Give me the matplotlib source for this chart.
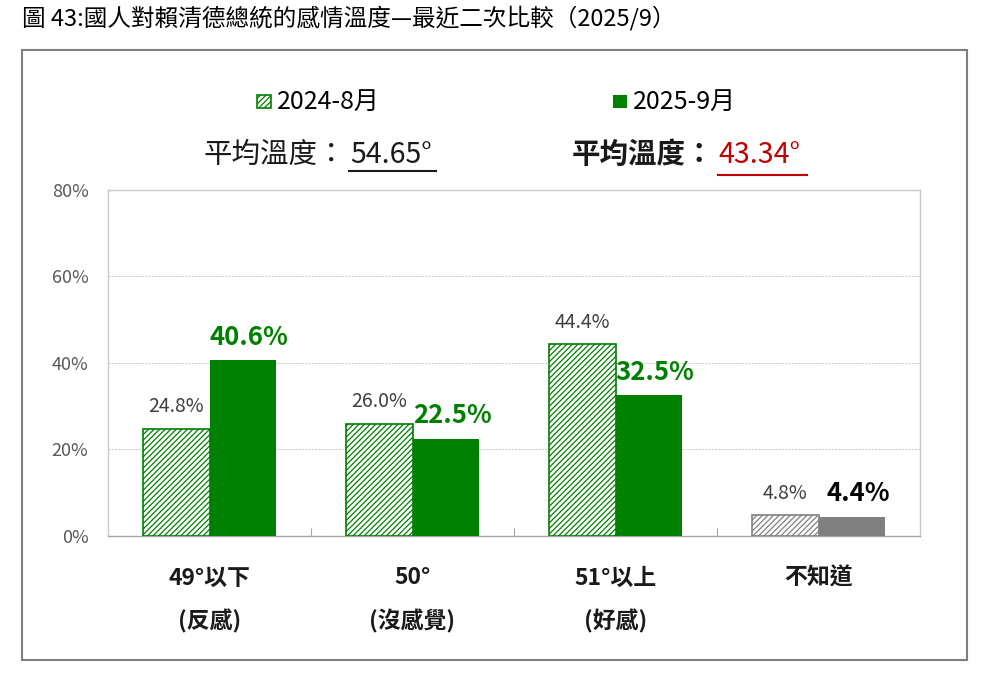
import matplotlib
matplotlib.use("Agg")
import matplotlib.pyplot as plt
from matplotlib.patches import Rectangle
from matplotlib.lines import Line2D
import matplotlib.transforms as mtransforms

plt.rcParams['font.family'] = ['Noto Sans CJK TC', 'DejaVu Sans']
plt.rcParams['hatch.linewidth'] = 0.9

title = "圖 43:國人對賴清德總統的感情溫度—最近二次比較（2025/9）"
cat_line1 = ["49°以下", "50°", "51°以上", "不知道"]
cat_line2 = ["(反感)", "(沒感覺)", "(好感)", ""]
series_names = ["2024-8月", "2025-9月"]
vals_2024 = [24.8, 26.0, 44.4, 4.8]
vals_2025 = [40.6, 22.5, 32.5, 4.4]
avg_2024 = "54.65°"
avg_2025 = "43.34°"
yticks = [0, 20, 40, 60, 80]

GREEN = '#008000'
GRAY = '#808080'

W, H = 991, 683
fig = plt.figure(figsize=(W/100, H/100), dpi=100)

def fx(px): return px / W
def fy(py): return 1 - py / H

# outer frame
fig.add_artist(Rectangle((fx(22), fy(660)), fx(967) - fx(22), fy(50) - fy(660),
                         transform=fig.transFigure, fill=False, edgecolor='#7f7f7f', lw=1.5))

fig.text(fx(22), fy(18), title, fontsize=17, va='center', ha='left', color='black')

ax = fig.add_axes([fx(108), fy(536), fx(920) - fx(108), fy(190) - fy(536)])

x = list(range(len(cat_line1)))
w = 0.33
for i in x:
    col = GREEN if i < 3 else GRAY
    ax.bar(i - w/2, vals_2024[i], width=w, facecolor='white', edgecolor=col,
           hatch='//////', lw=1.2, zorder=3)
    ax.bar(i + w/2, vals_2025[i], width=w, facecolor=col, edgecolor=col, lw=0, zorder=3)
    ax.text(i - w/2, vals_2024[i] + 2.6, f"{vals_2024[i]:.1f}%", ha='center', va='bottom',
            fontsize=14, color='#404040')
    c2 = GREEN if i < 3 else 'black'
    ax.text(i + w/2 + 0.03, vals_2025[i] + 2.2, f"{vals_2025[i]:.1f}%", ha='center', va='bottom',
            fontsize=18.5, fontweight='bold', color=c2)

ax.set_xlim(-0.5, 3.5)
ax.set_ylim(0, 80)
ax.set_yticks(yticks)
ax.set_yticklabels([f"{v}%" for v in yticks], fontsize=13, color='#595959')
ax.tick_params(axis='y', length=0, pad=14)
ax.set_xticks([0.5, 1.5, 2.5])
ax.set_xticklabels([])
ax.tick_params(axis='x', direction='in', length=6, color='#a6a6a6')
for yv in yticks[1:-1]:
    ax.axhline(yv, color='#d0d0d0', lw=0.8, ls=(0, (2, 1)), zorder=1)
for s in ax.spines.values():
    s.set_color('#c8c8c8')
    s.set_linewidth(1.0)
ax.spines['bottom'].set_color('#a6a6a6')

trans = mtransforms.blended_transform_factory(ax.transData, ax.transAxes)
for i in x:
    ax.text(i, (536 - 578) / 346, cat_line1[i], transform=trans, ha='center', va='center',
            fontsize=16.5, fontweight='bold', color='#1a1a1a')
    if cat_line2[i]:
        ax.text(i, (536 - 621) / 346, cat_line2[i], transform=trans, ha='center', va='center',
                fontsize=16.5, fontweight='bold', color='#1a1a1a')

# legend
fig.add_artist(Rectangle((fx(257), fy(108)), fx(14), fy(95) - fy(108), transform=fig.transFigure,
                         facecolor='white', edgecolor=GREEN, hatch='//////', lw=1.2))
fig.text(fx(277), fy(102), series_names[0], fontsize=18, va='center', ha='left', color='black')
fig.add_artist(Rectangle((fx(613), fy(108)), fx(14), fy(95) - fy(108), transform=fig.transFigure,
                         facecolor=GREEN, edgecolor=GREEN, lw=0))
fig.text(fx(633), fy(102), series_names[1], fontsize=18, va='center', ha='left', color='black')

# average temperatures
fig.text(fx(346), fy(155), "平均溫度：", fontsize=20.5, va='center', ha='right', color='#1a1a1a')
fig.text(fx(350), fy(155), avg_2024, fontsize=20.5, va='center', ha='left', color='#1a1a1a')
fig.add_artist(Line2D([fx(349), fx(436)], [fy(171), fy(171)], transform=fig.transFigure,
                      color='#1a1a1a', lw=1.5))
fig.text(fx(714), fy(155), "平均溫度：", fontsize=20.5, va='center', ha='right',
         color='#1a1a1a', fontweight='bold')
fig.text(fx(718), fy(155), avg_2025, fontsize=20.5, va='center', ha='left', color='#c00000')
fig.add_artist(Line2D([fx(718), fx(807)], [fy(175), fy(175)], transform=fig.transFigure,
                      color='#c00000', lw=1.5))

fig.savefig("out.png", dpi=100)
